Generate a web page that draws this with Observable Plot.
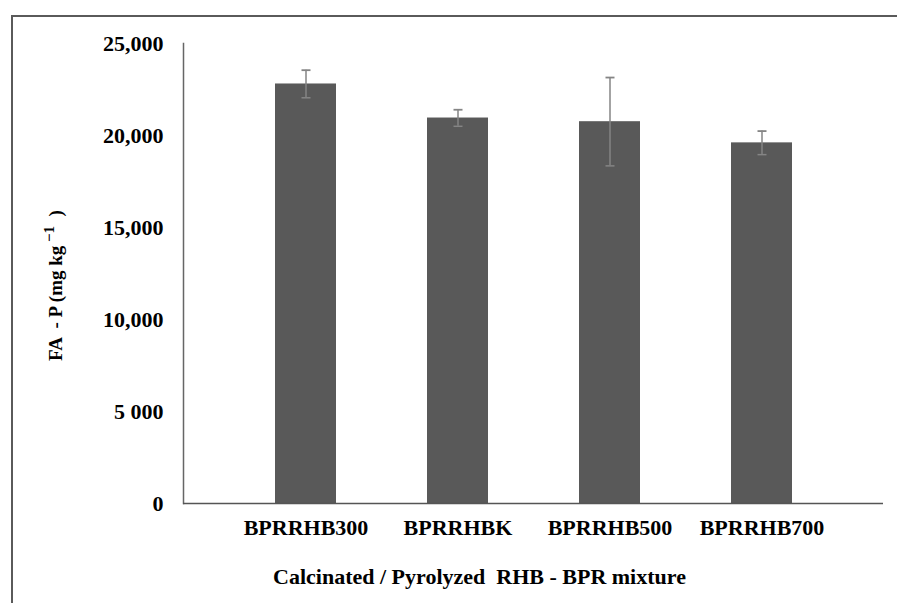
<!DOCTYPE html>
<html><head><meta charset="utf-8">
<script src="https://cdn.jsdelivr.net/npm/d3@7"></script>
<script src="https://cdn.jsdelivr.net/npm/@observablehq/plot@0.6"></script>
<style>
html,body{margin:0;padding:0;background:#fff;overflow:hidden;width:897px;height:603px;}
#wrap{position:relative;width:897px;height:603px;overflow:hidden;}
#border{position:absolute;left:11px;top:15px;width:2000px;height:2000px;border:2px solid #5a5a5a;box-sizing:border-box;}
#chart{position:absolute;left:0;top:0;}
#chart svg, #chart svg text{font-family:"Liberation Serif","Times New Roman",serif !important;font-weight:bold !important;}
#chart g[aria-label="y-axis label"], #chart g[aria-label="y-axis label"] text{font-size:19px !important;}
#chart g[aria-label="x-axis label"], #chart g[aria-label="x-axis label"] text{font-size:22px !important;}
</style>
</head><body>
<div id="wrap"><div id="border"></div><div id="chart"></div></div>
<script>
const categories = ["BPRRHB300", "BPRRHBK", "BPRRHB500", "BPRRHB700"];
const means = [22800, 20950, 20750, 19600];
const errors = [750, 450, 2400, 640];
const yTicks = [0, 5000, 10000, 15000, 20000, 25000];
const yTickLabels = ["0", "5 000", "10,000", "15,000", "20,000", "25,000"];
const xTitle = "Calcinated / Pyrolyzed  RHB - BPR mixture";
const yTitleMain = "FA  - P (mg kg";
const yTitleSup = " \u22121";
const yTitleEnd = "  )";

const data = categories.map((c, i) => ({cat: c, mean: means[i], lo: means[i] - errors[i], hi: means[i] + errors[i]}));

const capSymbol = {draw(context, size) { const r = 4.5; context.moveTo(-r, 0); context.lineTo(r, 0); }};

const chart = Plot.plot({
  width: 897, height: 603,
  marginLeft: 183, marginRight: 14, marginTop: 43, marginBottom: 100,
  style: {fontFamily: "Liberation Serif, Times New Roman, serif", fontSize: "22px", fontWeight: "bold", background: "transparent", color: "#000", whiteSpace: "pre"},
  x: {domain: categories, padding: 0.6, tickSize: 0, tickPadding: 16, label: xTitle, labelAnchor: "center", labelOffset: 80},
  y: {domain: [0, 25000], ticks: yTicks, tickFormat: d => yTickLabels[yTicks.indexOf(d)], tickSize: 0, tickPadding: 20, label: yTitleMain + yTitleSup + yTitleEnd, labelAnchor: "center", labelArrow: "none", labelOffset: 135},
  marks: [
    Plot.frame({anchor: "left", stroke: "#666", strokeWidth: 1.5}),
    Plot.barY(data, {x: "cat", y: "mean", fill: "#595959"}),
    Plot.ruleX(data, {x: "cat", y1: "lo", y2: "hi", stroke: "#858585", strokeWidth: 1.5}),
    Plot.dot(data, {x: "cat", y: "hi", symbol: capSymbol, fill: "none", stroke: "#858585", strokeWidth: 1.8}),
    Plot.dot(data, {x: "cat", y: "lo", symbol: capSymbol, fill: "none", stroke: "#858585", strokeWidth: 1.5}),
    Plot.ruleY([0], {stroke: "#555", strokeWidth: 1.5})
  ]
});

// rich text for the y title (superscript) and offsets matching the reference
const yl = d3.select(chart).select('g[aria-label="y-axis label"] text');
if (!yl.empty()) {
  yl.text(null);
  yl.append("tspan").attr("dx", -12).text(yTitleMain);
  yl.append("tspan").attr("dy", -8).style("font-size", "15px").text(yTitleSup);
  yl.append("tspan").attr("dy", 8).text(yTitleEnd);
}
const xl = d3.select(chart).select('g[aria-label="x-axis label"] text');
if (!xl.empty()) xl.attr("dx", -54);

document.getElementById("chart").appendChild(chart);
</script>
</body></html>
